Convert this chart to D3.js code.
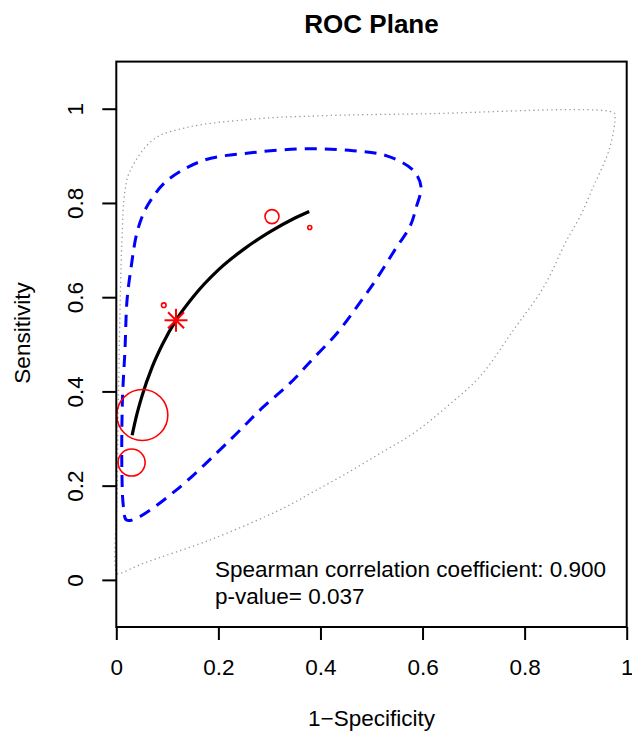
<!DOCTYPE html>
<html>
<head>
<meta charset="utf-8">
<script src="https://d3js.org/d3.v7.min.js"></script>
<style>
  body { margin: 0; background: #fff; }
  svg text { font-family: "Liberation Sans", Arial, sans-serif; fill: #000; }
</style>
</head>
<body>
<script type="text/javascript">
// study points (1-specificity, sensitivity, weight)
var studyFpr = [0.051, 0.030, 0.305, 0.379, 0.093];
var studySens = [0.350, 0.249, 0.771, 0.748, 0.583];
var studyWeight = [51, 27, 14, 4, 4.6];

// summary estimate
var summaryFpr = 0.117, summarySens = 0.551;

// SROC curve
var srocFpr = [0.031, 0.04, 0.05, 0.07, 0.09, 0.12, 0.15, 0.2, 0.25, 0.3, 0.35, 0.378];
var srocSens = [0.307, 0.350, 0.389, 0.451, 0.499, 0.556, 0.600, 0.658, 0.702, 0.738, 0.768, 0.782];

// confidence region (blue dashed)
var confFpr = [0.020, 0.014, 0.011, 0.012, 0.017, 0.021, 0.030, 0.040, 0.053, 0.067, 0.099, 0.170, 0.268, 0.379, 0.464, 0.530, 0.582, 0.597, 0.588, 0.575, 0.549, 0.510, 0.471, 0.432, 0.386, 0.340, 0.288, 0.223, 0.118, 0.040];
var confSens = [0.127, 0.155, 0.227, 0.381, 0.488, 0.593, 0.671, 0.735, 0.777, 0.805, 0.847, 0.890, 0.907, 0.915, 0.911, 0.900, 0.869, 0.834, 0.792, 0.749, 0.706, 0.639, 0.579, 0.523, 0.470, 0.417, 0.367, 0.297, 0.191, 0.131];

// prediction region (grey dotted)
var predFpr = [0.001, 0.002, 0.006, 0.011, 0.017, 0.027, 0.073, 0.138, 0.268, 0.399, 0.595, 0.974, 0.977, 0.967, 0.934, 0.908, 0.882, 0.837, 0.778, 0.712, 0.647, 0.582, 0.516, 0.451, 0.386, 0.327, 0.184, 0.053, 0.007];
var predSens = [0.014, 0.200, 0.500, 0.720, 0.826, 0.868, 0.935, 0.960, 0.978, 0.985, 0.989, 0.992, 0.985, 0.918, 0.833, 0.770, 0.720, 0.621, 0.530, 0.431, 0.367, 0.311, 0.268, 0.226, 0.187, 0.152, 0.085, 0.035, 0.014];

var xTicks = [0, 0.2, 0.4, 0.6, 0.8, 1];
var yTicks = [0, 0.2, 0.4, 0.6, 0.8, 1];
var statLines = ["Spearman correlation coefficient: 0.900", "p-value= 0.037"];

var W = 632, H = 733;
var x = d3.scaleLinear().domain([0, 1]).range([116.3, 626.7]);
var y = d3.scaleLinear().domain([-0.1, 1.1]).range([627, 61.6]);
var r = d3.scaleLinear().domain([0, d3.max(studyWeight)]).range([0, 25.5]);

var svg = d3.select("body").append("svg")
    .attr("width", W)
    .attr("height", H);

function pts(a, b) { return a.map(function(d, i) { return [d, b[i]]; }); }
var line = d3.line().x(function(d) { return x(d[0]); }).y(function(d) { return y(d[1]); });

// prediction region
svg.append("path")
    .datum(pts(predFpr, predSens))
    .attr("d", line.curve(d3.curveCatmullRomClosed.alpha(0.5)))
    .attr("fill", "none")
    .attr("stroke", "#9a9a9a")
    .attr("stroke-width", 1.3)
    .attr("stroke-dasharray", "1.3,3.2");

// confidence region
svg.append("path")
    .datum(pts(confFpr, confSens))
    .attr("d", line.curve(d3.curveCatmullRomClosed.alpha(0.5)))
    .attr("fill", "none")
    .attr("stroke", "#0000ff")
    .attr("stroke-width", 3)
    .attr("stroke-dasharray", "12,8");

// SROC
svg.append("path")
    .datum(pts(srocFpr, srocSens))
    .attr("d", line.curve(d3.curveMonotoneX))
    .attr("fill", "none")
    .attr("stroke", "#000")
    .attr("stroke-width", 3.2);

// studies
svg.selectAll(".study")
    .data(pts(studyFpr, studySens))
    .enter()
    .append("circle")
    .attr("class", "study")
    .attr("cx", function(d) { return x(d[0]); })
    .attr("cy", function(d) { return y(d[1]); })
    .attr("r", function(d, i) { return r(studyWeight[i]); })
    .attr("fill", "none")
    .attr("stroke", "#ff0000")
    .attr("stroke-width", 1.6);

// summary point, asterisk
var sx = x(summaryFpr), sy = y(summarySens);
var star = svg.append("g").attr("transform", "translate(" + sx + "," + sy + ")")
    .attr("stroke", "#ff0000").attr("stroke-width", 2);
star.append("line").attr("x1", -11.5).attr("x2", 11.5).attr("y1", 0).attr("y2", 0);
star.append("line").attr("x1", 0).attr("x2", 0).attr("y1", -11.5).attr("y2", 11.5);
star.append("line").attr("x1", -8).attr("x2", 8).attr("y1", -8).attr("y2", 8);
star.append("line").attr("x1", -8).attr("x2", 8).attr("y1", 8).attr("y2", -8);

// box
svg.append("rect")
    .attr("x", x(0)).attr("y", y(1.1))
    .attr("width", x(1) - x(0)).attr("height", y(-0.1) - y(1.1))
    .attr("fill", "none").attr("stroke", "#000").attr("stroke-width", 2);

// axes
var xAxis = svg.append("g")
    .attr("transform", "translate(0," + y(-0.1) + ")")
    .call(d3.axisBottom(x).tickValues(xTicks).tickSize(13).tickPadding(13).tickFormat(d3.format("~g")));
var yAxis = svg.append("g")
    .attr("transform", "translate(" + x(0) + ",0)")
    .call(d3.axisLeft(y).tickValues(yTicks).tickSize(14).tickFormat(d3.format("~g")));
[xAxis, yAxis].forEach(function(a) {
    a.select(".domain").remove();
    a.selectAll(".tick line").attr("stroke", "#000").attr("stroke-width", 2);
    a.selectAll(".tick text").style("font-size", "22.5px").attr("fill", "#000");
});
xAxis.selectAll(".tick text").attr("dy", null).attr("y", 48);
yAxis.selectAll(".tick text")
    .attr("x", null).attr("dy", null)
    .attr("text-anchor", "middle")
    .attr("transform", "translate(-33,0) rotate(-90)");

// annotation
svg.selectAll(".stat")
    .data(statLines)
    .enter()
    .append("text")
    .attr("class", "stat")
    .attr("x", 215)
    .attr("y", function(d, i) { return 576.5 + i * 27; })
    .style("font-size", "22.5px")
    .text(function(d) { return d; });

// titles
svg.append("text")
    .attr("x", (x(0) + x(1)) / 2).attr("y", 33)
    .attr("text-anchor", "middle")
    .style("font-size", "26px").style("font-weight", "bold")
    .text("ROC Plane");
svg.append("text")
    .attr("x", (x(0) + x(1)) / 2).attr("y", 725.5)
    .attr("text-anchor", "middle")
    .style("font-size", "22.5px")
    .text("1\u2212Specificity");
svg.append("text")
    .attr("transform", "translate(29.5,333) rotate(-90)")
    .attr("text-anchor", "middle")
    .style("font-size", "22.5px")
    .text("Sensitivity");
</script>
</body>
</html>
